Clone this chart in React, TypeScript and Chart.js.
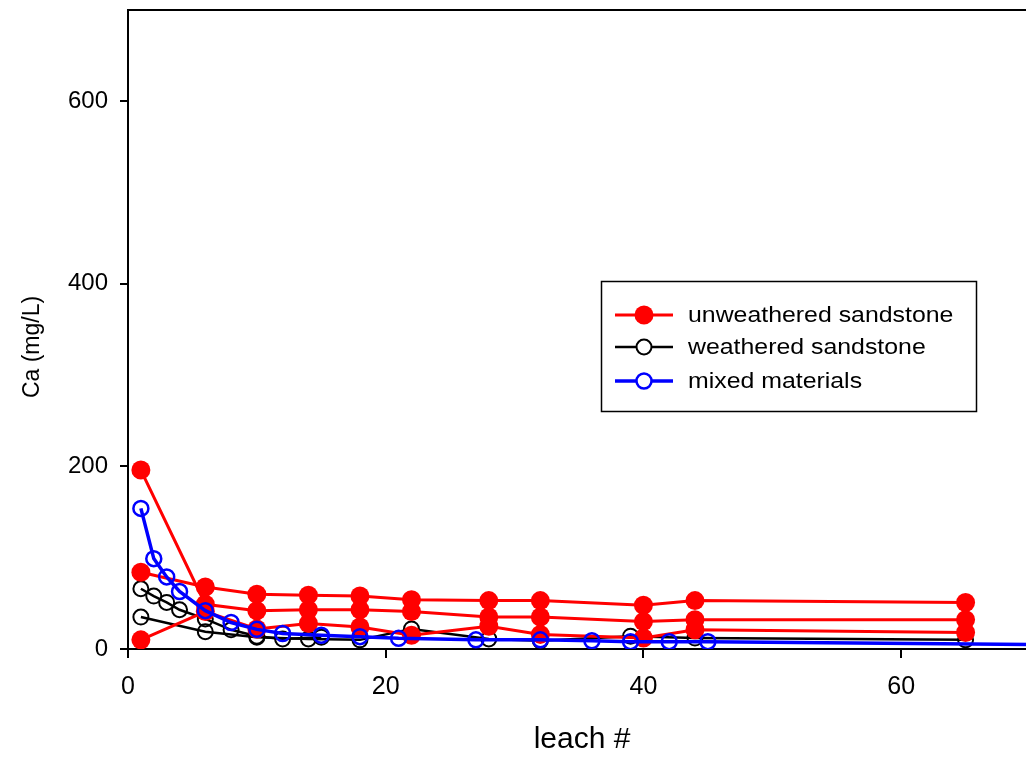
import React, { useEffect, useRef } from "react";
import { Chart, registerables } from "chart.js";
Chart.register(...registerables);

// ---- data ----
const redLeach = [1, 6, 10, 14, 18, 22, 28, 32, 40, 44, 65];
const redSeriesA = [196, 49, 42, 43, 43, 41, 35, 35, 30, 32, 32];
const redSeriesB = [84, 68, 60, 59, 58, 54, 53, 53, 48, 53, 51];
const redSeriesC = [10, 41, 22, 28, 24, 15, 25, 16, 12, 21, 18];

const blackLeachA = [1, 2, 3, 4, 6, 8, 10, 12, 15];
const blackSeriesA = [66, 58, 51, 43, 33, 21, 14, 11, 13];
const blackLeachB = [1, 6, 10, 14, 18, 22, 28, 32, 39, 44, 65];
const blackSeriesB = [35, 19, 13, 11, 10, 22, 11, 9, 14, 12, 10];

const blueLeach = [1, 2, 3, 4, 6, 8, 10, 12, 15, 18, 21, 27, 32, 36, 39, 42, 45, 80];
const blueSeries = [154, 99, 79, 63, 42, 29, 21.5, 17, 15, 13.5, 11.7, 10, 10, 9, 8, 8, 8, 3.6];

const xTickValues = [0, 20, 40, 60];
const yTickValues = [0, 200, 400, 600];
const legendLabels = ["unweathered sandstone", "weathered sandstone", "mixed materials"];
const xTitle = "leach #";
const yTitle = "Ca (mg/L)";

const FONT = '"Liberation Sans", Arial, Helvetica, sans-serif';
const RED = "#ff0000";
const BLACK = "#000000";
const BLUE = "#0000ff";

const pts = (xs: number[], ys: number[]) => xs.map((x, i) => ({ x, y: ys[i] }));

const redStyle = {
  borderColor: RED,
  backgroundColor: RED,
  borderWidth: 3,
  pointRadius: 9.5,
  pointBackgroundColor: RED,
  pointBorderColor: RED,
  pointBorderWidth: 0,
};
const blackStyle = {
  borderColor: BLACK,
  backgroundColor: "rgba(0,0,0,0)",
  borderWidth: 2.5,
  pointRadius: 7.5,
  pointBackgroundColor: "rgba(0,0,0,0)",
  pointBorderColor: BLACK,
  pointBorderWidth: 2,
};
const blueStyle = {
  borderColor: BLUE,
  backgroundColor: "rgba(0,0,0,0)",
  borderWidth: 3.5,
  pointRadius: 7.5,
  pointBackgroundColor: "rgba(0,0,0,0)",
  pointBorderColor: BLUE,
  pointBorderWidth: 2.5,
};

const decorPlugin = {
  id: "decor",
  afterDraw(chart: any) {
    const ctx = chart.ctx as CanvasRenderingContext2D;
    const area = chart.chartArea;
    const xs = chart.scales.x;
    ctx.save();
    // top frame
    ctx.strokeStyle = BLACK;
    ctx.lineWidth = 2;
    ctx.beginPath();
    ctx.moveTo(area.left - 1, area.top);
    ctx.lineTo(area.right + 1, area.top);
    ctx.stroke();

    // x tick labels from the library's ticks
    ctx.fillStyle = BLACK;
    ctx.textAlign = "center";
    ctx.textBaseline = "middle";
    ctx.font = `25px ${FONT}`;
    for (const t of xs.ticks) {
      const px = xs.getPixelForValue(t.value);
      ctx.fillText(String(t.value), px, 687);
    }
    // x title, centred over the plot area
    ctx.font = `30px ${FONT}`;
    ctx.fillText(xTitle, (area.left + area.right) / 2 + 3, 740);
    // y title
    ctx.save();
    ctx.font = `23px ${FONT}`;
    ctx.translate(33, 347);
    ctx.rotate(-Math.PI / 2);
    ctx.fillText(yTitle, 0, 0);
    ctx.restore();

    // legend box
    const bx = 601.5, by = 281.5, bw = 375, bh = 130;
    ctx.fillStyle = "#ffffff";
    ctx.fillRect(bx, by, bw, bh);
    ctx.strokeStyle = BLACK;
    ctx.lineWidth = 1.5;
    ctx.strokeRect(bx, by, bw, bh);
    const rows = [315, 347, 381];
    const styles = [redStyle, blackStyle, blueStyle];
    const colors = [RED, BLACK, BLUE];
    rows.forEach((ry, i) => {
      const st: any = styles[i];
      ctx.strokeStyle = colors[i];
      ctx.lineWidth = st.borderWidth;
      ctx.beginPath();
      ctx.moveTo(615, ry);
      ctx.lineTo(673, ry);
      ctx.stroke();
      ctx.beginPath();
      ctx.arc(644, ry, st.pointRadius, 0, Math.PI * 2);
      if (i === 0) {
        ctx.fillStyle = RED;
        ctx.fill();
      } else {
        ctx.fillStyle = "#ffffff";
        ctx.fill();
        ctx.lineWidth = st.pointBorderWidth;
        ctx.stroke();
      }
      ctx.save();
      ctx.fillStyle = BLACK;
      ctx.font = `22px ${FONT}`;
      ctx.textAlign = "left";
      ctx.textBaseline = "middle";
      ctx.translate(688, ry + 1);
      ctx.scale(1.13, 1);
      ctx.fillText(legendLabels[i], 0, 0);
      ctx.restore();
    });
    ctx.restore();
  },
};

export default function App() {
  const ref = useRef<HTMLCanvasElement | null>(null);
  useEffect(() => {
    if (!ref.current) return;
    const chart = new Chart(ref.current, {
      type: "line",
      data: {
        datasets: [
          { label: legendLabels[2], data: pts(blueLeach, blueSeries), ...blueStyle },
          { label: legendLabels[0], data: pts(redLeach, redSeriesA), ...redStyle },
          { label: legendLabels[0], data: pts(redLeach, redSeriesB), ...redStyle },
          { label: legendLabels[0], data: pts(redLeach, redSeriesC), ...redStyle },
          { label: legendLabels[1], data: pts(blackLeachA, blackSeriesA), ...blackStyle },
          { label: legendLabels[1], data: pts(blackLeachB, blackSeriesB), ...blackStyle },
        ] as any,
      },
      options: {
        responsive: false,
        animation: false,
        devicePixelRatio: 1,
        layout: { padding: { top: 10, right: 9, left: 0, bottom: 0 } },
        plugins: { legend: { display: false }, tooltip: { enabled: false } },
        elements: { line: { tension: 0 } },
        scales: {
          x: {
            type: "linear",
            min: 0,
            max: 70,
            afterFit: (s: any) => { s.height = 108; s.paddingLeft = 0; s.paddingRight = 0; },
            afterBuildTicks: (s: any) => { s.ticks = xTickValues.map((v) => ({ value: v })); },
            ticks: { stepSize: 20, includeBounds: false, color: "rgba(0,0,0,0)", font: { size: 25, family: FONT } },
            grid: { display: true, drawOnChartArea: false, drawTicks: true, tickLength: 9, color: BLACK, lineWidth: 2 },
            border: { display: true, color: BLACK, width: 2 },
          },
          y: {
            type: "linear",
            min: 0,
            max: 700,
            afterFit: (s: any) => { s.width = 128; s.paddingTop = 0; s.paddingBottom = 0; },
            afterBuildTicks: (s: any) => { s.ticks = yTickValues.map((v) => ({ value: v })); },
            ticks: { stepSize: 200, includeBounds: false, color: BLACK, padding: 12, font: { size: 24, family: FONT } },
            grid: { display: true, drawOnChartArea: false, drawTicks: true, tickLength: 8, color: BLACK, lineWidth: 2 },
            border: { display: true, color: BLACK, width: 2 },
          },
        },
      } as any,
      plugins: [decorPlugin],
    });
    return () => chart.destroy();
  }, []);
  return (
    <div style={{ position: "fixed", left: 0, top: 0, width: 1040, height: 757, background: "#fff" }}>
      <canvas ref={ref} width={1040} height={757} style={{ display: "block" }} />
    </div>
  );
}
